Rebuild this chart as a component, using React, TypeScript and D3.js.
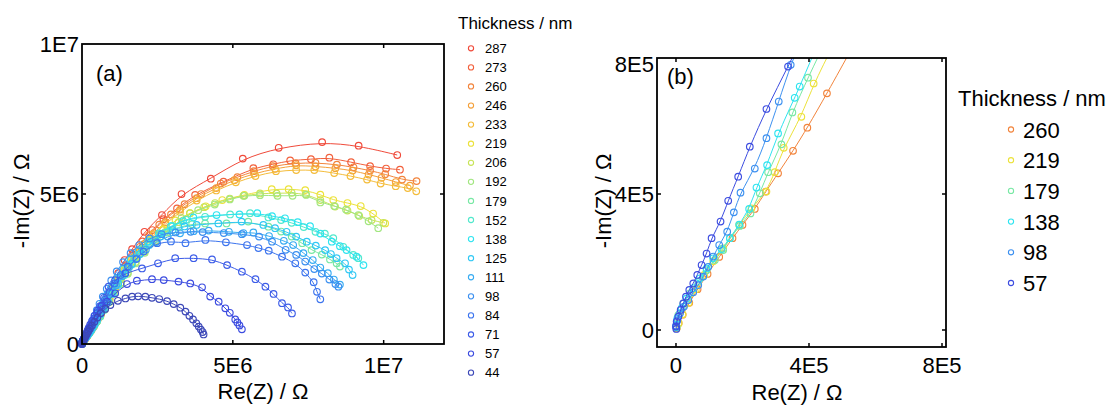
import React from 'react';
import * as d3 from 'd3';

type P = [number, number];

// All impedance values in units of 1E5 Ω : [Re(Z), -Im(Z)]
const s287: P[] = [[0.05,0.1],[0.15,0.3],[0.3,0.6],[0.5,1.0],[0.8,1.5],[1.2,2.2],[1.7,3.0],[2.3,4.0],[3.0,5.2],[3.9,6.6],[4.9,8.3],[6.0,10.3],[7.3,12.8],[8.7,15.8],[10.3,19.4],[12.0,23.6],[14.1,28.0],[16.6,31.6],[20.7,37.4],[26.5,43.0],[33.0,50.0],[42.7,55.1],[53.3,61.8],[65.2,65.4],[79.6,67.3],[91.7,66.1],[104.5,63.0]];
const s273: P[] = [[0.05,0.1],[0.15,0.28],[0.3,0.55],[0.5,0.9],[0.8,1.4],[1.2,2.0],[1.7,2.8],[2.3,3.8],[3.0,4.9],[3.9,6.3],[4.9,7.9],[6.1,9.9],[7.5,12.3],[9.1,15.2],[10.9,18.6],[12.9,22.4],[15.0,26.4],[17.3,30.4],[20.0,34.2],[23.3,38.0],[27.0,41.6],[31.5,45.2],[37.5,49.7],[46.9,54.1],[56.8,58.6],[63.4,59.9],[69.0,61.2],[75.9,61.6],[82.0,62.1],[89.2,60.6],[95.5,59.3],[100.8,58.5],[105.4,58.1]];
const s260: P[] = [[0.02,0.05],[0.08,0.2],[0.2,0.45],[0.4,0.8],[0.65,1.2],[0.95,1.65],[1.3,2.15],[1.7,2.7],[2.0,3.09],[2.37,3.56],[2.7,4.07],[3.07,4.61],[3.52,5.27],[3.95,5.95],[4.54,6.96],[5.3,8.3],[6.3,10.1],[7.5,12.3],[8.9,14.9],[10.5,17.9],[12.3,21.2],[14.3,24.8],[16.6,28.6],[19.2,32.4],[22.2,36.2],[25.6,39.8],[29.5,43.2],[34.0,46.6],[39.5,50.0],[46.0,53.5],[51.5,55.6],[57.0,57.6],[63.2,59.3],[70.8,60.3],[77.4,60.4],[84.5,59.8],[90.0,58.9],[95.5,57.8],[100.5,56.6],[106.1,54.8],[110.9,54.3]];
const s246: P[] = [[0.05,0.1],[0.15,0.27],[0.3,0.52],[0.5,0.86],[0.8,1.32],[1.2,1.92],[1.7,2.66],[2.3,3.55],[3.0,4.6],[3.9,6.0],[4.9,7.6],[6.1,9.6],[7.5,12.0],[9.1,14.9],[10.9,18.2],[12.9,21.8],[15.1,25.6],[17.6,29.4],[20.5,33.3],[23.8,37.0],[27.6,40.6],[32.5,44.8],[38.0,48.6],[44.5,52.0],[50.5,54.6],[57.0,56.8],[64.0,58.4],[71.0,59.6],[77.4,59.2],[84.0,58.6],[89.7,57.8],[95.0,56.5],[99.3,55.4],[104.0,54.0],[108.7,52.8]];
const s233: P[] = [[0.05,0.1],[0.15,0.27],[0.3,0.52],[0.5,0.85],[0.8,1.3],[1.2,1.9],[1.7,2.62],[2.3,3.5],[3.0,4.55],[3.9,5.9],[4.9,7.5],[6.1,9.5],[7.5,11.9],[9.1,14.7],[10.9,18.0],[12.9,21.6],[15.1,25.3],[17.6,29.0],[20.5,32.8],[23.8,36.5],[27.6,40.0],[32.5,44.0],[38.0,47.8],[44.5,51.2],[51.0,53.9],[57.5,56.0],[64.3,57.6],[71.0,58.0],[77.0,58.0],[83.6,57.0],[89.0,56.0],[94.5,54.8],[99.0,53.5],[104.0,52.6],[108.0,52.0],[110.8,50.9]];
const s219: P[] = [[0.02,0.06],[0.08,0.2],[0.2,0.46],[0.38,0.8],[0.6,1.2],[0.85,1.62],[1.12,2.02],[1.42,2.4],[1.9,3.09],[2.27,3.58],[2.72,4.07],[2.97,4.64],[3.24,5.36],[3.77,6.27],[4.14,7.25],[4.9,8.7],[5.9,10.6],[7.1,12.9],[8.5,15.5],[10.1,18.4],[11.9,21.4],[14.0,24.6],[16.5,28.0],[19.4,31.4],[22.8,34.8],[26.8,38.2],[31.0,41.2],[35.8,43.6],[41.0,45.9],[46.5,48.0],[53.8,49.7],[62.9,51.6],[68.5,51.6],[74.0,51.3],[79.0,49.8],[83.3,48.0],[88.0,47.0],[92.4,46.0],[96.5,43.5],[100.5,40.2]];
const s206: P[] = [[0.05,0.1],[0.15,0.3],[0.3,0.6],[0.5,0.97],[0.8,1.48],[1.2,2.1],[1.7,2.85],[2.3,3.7],[3.0,4.7],[3.9,6.0],[4.9,7.5],[6.1,9.3],[7.5,11.6],[9.1,14.2],[10.9,17.2],[12.9,20.4],[15.2,23.8],[17.8,27.3],[20.8,30.8],[24.3,34.4],[28.3,37.8],[32.0,40.6],[35.8,43.6],[40.5,45.6],[44.1,47.0],[49.0,48.5],[53.5,49.4],[59.0,50.2],[64.5,50.2],[69.5,50.4],[74.2,49.9],[79.0,48.0],[83.9,45.8],[88.0,44.5],[91.9,42.7],[96.0,41.3],[99.9,40.4]];
const s192: P[] = [[0.05,0.1],[0.15,0.3],[0.3,0.6],[0.5,0.97],[0.8,1.47],[1.2,2.08],[1.7,2.82],[2.3,3.66],[3.0,4.65],[3.9,5.9],[4.9,7.4],[6.1,9.2],[7.5,11.4],[9.1,14.0],[10.9,16.9],[12.9,20.0],[15.2,23.4],[17.8,26.9],[20.8,30.4],[24.3,33.9],[28.3,37.2],[33.0,42.0],[38.5,44.6],[44.0,46.5],[49.0,48.2],[53.8,49.4],[59.0,49.6],[64.8,49.4],[69.8,49.4],[74.3,49.7],[79.0,47.2],[83.6,46.0],[87.5,44.8],[91.6,43.0],[95.0,40.9],[98.2,38.6]];
const s179: P[] = [[0.02,0.1],[0.07,0.44],[0.22,0.78],[0.42,1.08],[0.67,1.42],[0.92,1.76],[1.17,2.06],[1.42,2.35],[1.62,2.7],[1.92,3.06],[2.24,3.43],[2.52,4.02],[2.77,4.64],[3.17,5.46],[3.5,6.4],[3.97,7.42],[4.6,8.7],[5.4,10.3],[6.4,12.2],[7.6,14.4],[9.0,16.9],[10.6,19.6],[12.5,22.5],[14.7,25.6],[17.2,28.7],[20.2,31.8],[23.5,34.6],[27.5,37.2],[32.0,39.0],[36.5,39.9],[40.8,40.2],[47.9,40.2],[55.1,40.8],[61.8,39.1],[66.0,37.5],[69.5,35.8],[73.0,33.6],[76.1,31.3],[79.5,29.8],[82.2,28.2],[84.4,26.9],[85.5,25.8]];
const s152: P[] = [[0.03,0.1],[0.1,0.35],[0.25,0.7],[0.45,1.05],[0.7,1.42],[0.98,1.8],[1.3,2.2],[1.65,2.65],[2.05,3.15],[2.5,3.75],[3.0,4.45],[3.55,5.3],[4.2,6.3],[5.0,7.6],[6.0,9.2],[7.2,11.3],[8.6,13.8],[10.2,16.6],[12.0,19.7],[14.1,23.0],[16.5,26.5],[19.2,30.0],[22.3,33.4],[26.0,36.6],[30.0,39.4],[34.5,41.4],[40.8,42.4],[49.1,43.2],[55.7,43.6],[61.8,42.2],[66.0,41.3],[69.5,40.4],[73.5,39.0],[77.4,37.4],[80.5,36.8],[83.3,35.3],[86.6,32.4],[89.9,29.7],[91.6,28.6]];
const s138: P[] = [[0.01,0.08],[0.04,0.34],[0.17,0.64],[0.32,0.93],[0.52,1.23],[0.72,1.52],[0.92,1.81],[1.12,2.11],[1.37,2.38],[1.62,2.7],[1.9,3.1],[2.2,3.56],[2.42,4.19],[2.74,4.85],[3.07,5.78],[3.57,6.83],[3.72,7.16],[4.3,8.5],[5.0,10.0],[5.9,11.8],[7.0,13.9],[8.3,16.3],[9.8,19.0],[11.6,21.9],[13.7,25.0],[16.1,28.2],[18.8,31.3],[21.9,34.2],[25.5,36.9],[29.5,39.3],[33.5,41.0],[36.9,42.2],[44.6,43.0],[52.2,43.2],[58.1,43.6],[63.0,42.6],[67.3,41.9],[71.5,40.6],[75.6,39.3],[79.0,36.8],[82.8,34.1],[85.5,32.6],[87.7,31.3],[91.0,29.1],[93.3,26.3]];
const s125: P[] = [[0.03,0.12],[0.1,0.38],[0.25,0.74],[0.45,1.1],[0.7,1.48],[0.98,1.88],[1.3,2.3],[1.65,2.78],[2.05,3.3],[2.5,3.95],[3.0,4.7],[3.55,5.6],[4.2,6.7],[5.0,8.1],[6.0,9.8],[7.2,11.9],[8.6,14.4],[10.2,17.2],[12.0,20.2],[14.1,23.4],[16.5,26.7],[19.2,30.0],[22.3,33.0],[26.0,35.8],[30.0,38.0],[34.0,39.2],[38.0,39.7],[45.2,40.2],[52.9,40.8],[60.1,39.7],[64.0,38.6],[67.8,37.4],[71.0,35.8],[74.5,34.1],[77.5,32.8],[80.6,31.3],[82.5,30.0],[84.4,28.6],[87.2,26.9],[88.5,24.8],[89.7,23.0]];
const s111: P[] = [[0.02,0.12],[0.08,0.4],[0.2,0.78],[0.38,1.15],[0.6,1.55],[0.86,1.97],[1.15,2.43],[1.5,2.95],[1.9,3.55],[2.35,4.25],[2.85,5.05],[3.4,6.0],[4.05,7.1],[4.8,8.4],[5.7,10.0],[6.8,11.9],[8.1,14.2],[9.6,16.8],[11.3,19.6],[13.3,22.6],[15.6,25.6],[18.2,28.6],[21.2,31.5],[24.6,34.0],[28.4,35.8],[32.5,36.9],[37.0,37.6],[42.0,37.8],[48.7,37.4],[53.5,37.0],[56.8,37.2],[62.0,36.0],[66.9,34.4],[70.0,33.0],[73.4,30.3],[76.5,28.0],[79.0,25.5],[81.5,23.6],[83.5,21.5],[85.5,19.8]];
const s98: P[] = [[0.0,0.13],[0.04,0.29],[0.12,0.49],[0.24,0.69],[0.37,0.88],[0.52,1.11],[0.67,1.32],[0.82,1.57],[0.97,1.86],[1.12,2.16],[1.3,2.5],[1.54,2.89],[1.74,3.46],[1.94,4.04],[2.37,4.75],[2.72,5.64],[3.09,6.72],[3.45,7.8],[4.1,9.4],[4.9,11.3],[5.8,13.4],[6.9,15.8],[8.2,18.4],[9.7,21.2],[11.5,24.2],[13.6,27.3],[16.1,30.3],[19.0,33.0],[22.4,35.2],[26.4,36.6],[31.0,37.2],[36.0,37.4],[40.0,37.3],[47.0,37.0],[53.0,36.6],[58.7,35.8],[63.0,34.1],[67.5,31.4],[71.0,29.7],[74.0,27.5],[77.0,25.0],[79.5,23.5],[82.0,21.5],[84.0,20.0],[85.0,19.1]];
const s84: P[] = [[0.01,0.1],[0.05,0.35],[0.15,0.62],[0.28,0.9],[0.44,1.2],[0.62,1.55],[0.83,1.95],[1.07,2.4],[1.35,2.95],[1.67,3.6],[2.05,4.35],[2.5,5.2],[3.0,6.2],[3.6,7.4],[4.35,8.8],[5.25,10.5],[6.3,12.5],[7.6,14.8],[9.1,17.4],[10.8,20.2],[12.8,23.0],[15.2,25.8],[18.0,28.3],[20.4,30.8],[24.9,33.6],[29.5,34.2],[34.3,33.6],[40.9,34.7],[47.7,33.9],[54.7,33.0],[58.5,32.0],[61.9,31.1],[66.3,29.1],[70.7,26.9],[74.0,23.8],[76.8,20.6],[77.9,17.4],[79.0,14.9]];
const s71: P[] = [[0.01,0.1],[0.05,0.36],[0.14,0.64],[0.26,0.94],[0.41,1.26],[0.6,1.65],[0.85,2.15],[1.15,2.75],[1.5,3.45],[1.95,4.35],[2.5,5.45],[3.15,6.75],[3.95,8.35],[4.9,10.3],[6.0,12.6],[7.3,15.4],[8.8,19.1],[11.0,21.3],[14.4,23.6],[19.9,25.2],[25.2,26.9],[30.9,28.6],[37.0,28.6],[43.1,28.2],[48.1,26.3],[53.0,24.1],[57.5,21.6],[60.8,19.1],[63.5,16.7],[66.3,13.6],[68.3,12.2],[69.6,10.2]];
const s57: P[] = [[0.01,0.03],[0.0,0.1],[0.02,0.25],[0.07,0.39],[0.14,0.59],[0.22,0.78],[0.3,0.98],[0.4,1.18],[0.52,1.37],[0.64,1.62],[0.77,1.91],[0.92,2.25],[1.07,2.7],[1.34,3.19],[1.57,3.8],[1.87,4.51],[2.22,5.39],[2.72,6.5],[3.37,7.75],[4.2,9.4],[5.2,11.1],[6.6,12.8],[8.3,14.1],[11.0,16.9],[14.9,20.0],[18.2,21.1],[23.2,21.6],[27.1,21.3],[32.0,20.8],[35.9,20.2],[39.8,18.9],[42.5,15.8],[45.3,14.1],[47.5,11.9],[49.0,10.4],[50.8,8.2],[51.5,7.2],[52.2,6.2],[53.0,4.9]];
const s44: P[] = [[0.01,0.08],[0.03,0.3],[0.1,0.55],[0.2,0.82],[0.32,1.1],[0.48,1.42],[0.68,1.8],[0.92,2.25],[1.22,2.8],[1.6,3.45],[2.05,4.2],[2.6,5.1],[3.3,6.15],[4.1,7.4],[5.1,8.8],[6.3,10.3],[7.7,11.7],[9.4,13.0],[11.9,14.4],[14.4,15.2],[16.6,15.8],[18.6,15.9],[21.0,15.8],[23.2,15.4],[25.6,15.0],[28.2,14.3],[30.4,13.3],[32.6,12.1],[34.3,10.8],[35.6,9.4],[36.8,8.2],[37.9,6.9],[38.7,5.8],[39.4,4.8],[40.0,4.0],[40.3,3.2]];

const thicknessA = [287, 273, 260, 246, 233, 219, 206, 192, 179, 152, 138, 125, 111, 98, 84, 71, 57, 44];
const seriesA: P[][] = [s287, s273, s260, s246, s233, s219, s206, s192, s179, s152, s138, s125, s111, s98, s84, s71, s57, s44];
const thicknessB = [260, 219, 179, 138, 98, 57];

const ticksA = [0, 50, 100];
const tickLabelsA = ['0', '5E6', '1E7'];
const ticksB = [0, 4, 8];
const tickLabelsB = ['0', '4E5', '8E5'];

const colorOf: Record<number, string> = {
  287: '#f04a3a', 273: '#f2603c', 260: '#f2843c', 246: '#f4a03a', 233: '#f4bc3a',
  219: '#ece23a', 206: '#c8e458', 192: '#a2e680', 179: '#78e8a4', 152: '#52e8cc',
  138: '#2ee4f0', 125: '#30c8f4', 111: '#38acf2', 98: '#3c90f0', 84: '#3c74ee',
  71: '#3c5ce8', 57: '#3c4ce0', 44: '#3c48b8',
};

const FONT = '"Liberation Sans", Arial, sans-serif';

export default function App() {
  const xa = d3.scaleLinear().domain([0, 120]).range([82, 444]);
  const ya = d3.scaleLinear().domain([0, 100]).range([344, 44]);
  const xb = d3.scaleLinear().domain([-0.571, 8.12]).range([657, 946]);
  const yb = d3.scaleLinear().domain([-0.5, 8]).range([347, 58]);

  const lineA = d3.line<P>().x(d => xa(d[0])).y(d => ya(d[1])).curve(d3.curveBasis);
  const lineB = d3.line<P>().x(d => xb(d[0])).y(d => yb(d[1])).curve(d3.curveBasis);

  const order = seriesA.map((s, i) => i); // red first, blue last
  const tl = 4;

  return (
    <svg width={1107} height={406} style={{ position: 'absolute', left: 0, top: 0, background: '#fff' }}
      fontFamily={FONT}>
      <defs>
        <clipPath id="clipB">
          <rect x={xb.range()[0]} y={yb.range()[1]} width={xb.range()[1] - xb.range()[0]} height={yb.range()[0] - yb.range()[1]} />
        </clipPath>
      </defs>
      <rect x={0} y={0} width={1107} height={406} fill="#fff" />

      {/* Panel (a) */}
      <g>
        {order.map(i => (
          <g key={'a' + i}>
            <path d={lineA(seriesA[i]) || ''} fill="none" stroke={colorOf[thicknessA[i]]} strokeWidth={1} />
            {seriesA[i].map((p, j) => (
              <circle key={j} cx={xa(p[0])} cy={ya(p[1])} r={3.3} fill="none" stroke={colorOf[thicknessA[i]]} strokeWidth={1.15} />
            ))}
          </g>
        ))}
        <rect x={xa.range()[0]} y={ya.range()[1]} width={xa.range()[1] - xa.range()[0]} height={ya.range()[0] - ya.range()[1]}
          fill="none" stroke="#000" strokeWidth={1.8} />
        {ticksA.slice(1).map(t => (
          <g key={'ta' + t} stroke="#000" strokeWidth={1.5}>
            <line x1={xa(t)} x2={xa(t)} y1={ya.range()[0]} y2={ya.range()[0] - tl} />
            <line x1={xa(t)} x2={xa(t)} y1={ya.range()[1]} y2={ya.range()[1] + tl} />
          </g>
        ))}
        {ticksA.slice(1, 2).map(t => (
          <g key={'tay' + t} stroke="#000" strokeWidth={1.5}>
            <line x1={xa.range()[0]} x2={xa.range()[0] + tl} y1={ya(t)} y2={ya(t)} />
            <line x1={xa.range()[1]} x2={xa.range()[1] - tl} y1={ya(t)} y2={ya(t)} />
          </g>
        ))}
        {ticksA.map((t, i) => (
          <text key={'lax' + t} x={xa(t)} y={373} fontSize={22} textAnchor="middle">{tickLabelsA[i]}</text>
        ))}
        {ticksA.map((t, i) => (
          <text key={'lay' + t} x={79} y={ya(t) + 8} fontSize={22} textAnchor="end">{tickLabelsA[i]}</text>
        ))}
        <text x={263} y={399} fontSize={22} textAnchor="middle">Re(Z) / Ω</text>
        <text transform={`translate(29,${201}) rotate(-90)`} fontSize={22} textAnchor="middle">-Im(Z) / Ω</text>
        <text x={96} y={81} fontSize={22}>(a)</text>
      </g>

      {/* Legend (a) */}
      <g>
        <text x={458} y={29} fontSize={17}>Thickness / nm</text>
        {thicknessA.map((t, i) => {
          const cy = 48.3 + i * 19.08;
          return (
            <g key={'la' + t}>
              <circle cx={471} cy={cy} r={2.6} fill="none" stroke={colorOf[t]} strokeWidth={1.1} />
              <text x={485} y={cy + 4.6} fontSize={13}>{t}</text>
            </g>
          );
        })}
      </g>

      {/* Panel (b) */}
      <g>
        <g clipPath="url(#clipB)">
          {thicknessB.map(t => {
            const s = seriesA[thicknessA.indexOf(t)];
            return (
              <g key={'b' + t}>
                <path d={lineB(s) || ''} fill="none" stroke={colorOf[t]} strokeWidth={1} />
                {s.filter(p => p[0] <= 8.3 && p[1] <= 8.3).map((p, j) => (
                  <circle key={j} cx={xb(p[0])} cy={yb(p[1])} r={3.3} fill="none" stroke={colorOf[t]} strokeWidth={1.15} />
                ))}
              </g>
            );
          })}
        </g>
        <rect x={xb.range()[0]} y={yb.range()[1]} width={xb.range()[1] - xb.range()[0]} height={yb.range()[0] - yb.range()[1]}
          fill="none" stroke="#000" strokeWidth={1.8} />
        {ticksB.map(t => (
          <g key={'tb' + t} stroke="#000" strokeWidth={1.5}>
            <line x1={xb(t)} x2={xb(t)} y1={yb.range()[0]} y2={yb.range()[0] - tl} />
            <line x1={xb(t)} x2={xb(t)} y1={yb.range()[1]} y2={yb.range()[1] + tl} />
          </g>
        ))}
        {ticksB.slice(0, 2).map(t => (
          <g key={'tby' + t} stroke="#000" strokeWidth={1.5}>
            <line x1={xb.range()[0]} x2={xb.range()[0] + tl} y1={yb(t)} y2={yb(t)} />
            <line x1={xb.range()[1]} x2={xb.range()[1] - tl} y1={yb(t)} y2={yb(t)} />
          </g>
        ))}
        {ticksB.map((t, i) => (
          <text key={'lbx' + t} x={xb(t)} y={373} fontSize={22} textAnchor="middle">{tickLabelsB[i]}</text>
        ))}
        {ticksB.map((t, i) => (
          <text key={'lby' + t} x={654} y={Math.max(yb(t), 64) + 8} fontSize={22} textAnchor="end">{tickLabelsB[i]}</text>
        ))}
        <text x={797} y={400} fontSize={22} textAnchor="middle">Re(Z) / Ω</text>
        <text transform={`translate(611,${201}) rotate(-90)`} fontSize={22} textAnchor="middle">-Im(Z) / Ω</text>
        <text x={667} y={84} fontSize={22}>(b)</text>
      </g>

      {/* Legend (b) */}
      <g>
        <text x={958} y={106} fontSize={22}>Thickness / nm</text>
        {thicknessB.map((t, i) => {
          const cy = 129.5 + i * 30.7;
          return (
            <g key={'lb' + t}>
              <circle cx={1011} cy={cy} r={2.6} fill="none" stroke={colorOf[t]} strokeWidth={1.1} />
              <text x={1023} y={cy + 8} fontSize={22}>{t}</text>
            </g>
          );
        })}
      </g>
    </svg>
  );
}
